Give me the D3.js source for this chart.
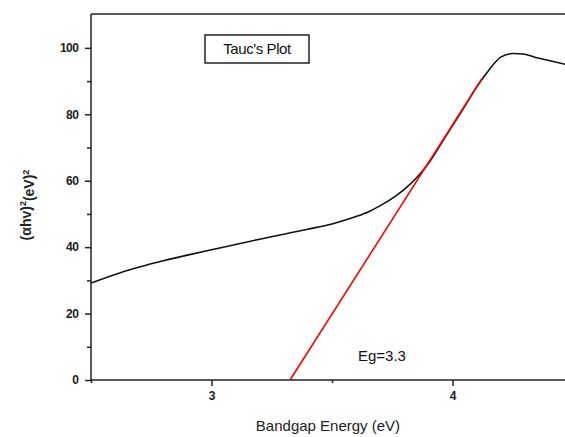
<!DOCTYPE html>
<html>
<head>
<meta charset="utf-8">
<script src="https://cdn.jsdelivr.net/npm/d3@7"></script>
<style>
	body { margin: 0; background: #fff; }
	svg { font-family: "Liberation Sans", Arial, sans-serif; }
</style>
</head>
<body>
<svg class="mainsvg" width="565" height="437"></svg>
<script>
// measured curve, (alpha h v)^2 vs photon energy
var energy = [2.5, 2.6, 2.7, 2.8, 2.9, 3.0, 3.1, 3.2, 3.3, 3.4, 3.5, 3.6, 3.65, 3.7, 3.75,
	3.8, 3.85, 3.9, 3.95, 4.0, 4.05, 4.1, 4.15, 4.2, 4.25, 4.3, 4.35, 4.4, 4.47];
var absorb = [29.2, 31.8, 34.0, 35.9, 37.6, 39.2, 40.8, 42.4, 43.9, 45.4, 47.0, 49.2, 50.6, 52.5, 54.7,
	57.4, 60.8, 65.2, 70.8, 76.6, 82.3, 88.2, 93.2, 97.2, 98.3, 98.1, 97.0, 96.2, 95.0];

// linear fit to the absorption edge
var fitX = [3.326, 4.12];
var fitY = [0, 90.5];

var xTicks = [3, 4];
var xMinor = [2.5, 3.5, 4.5];
var yTicks = [0, 20, 40, 60, 80, 100];
var yMinor = [10, 30, 50, 70, 90];

var margin = {left: 91, top: 14, bottom: 57};
var _width = 565, _height = 437;

var svg = d3.select('.mainsvg');

var x = d3.scaleLinear().domain([2.5, 4.5]).range([margin.left, margin.left + 482]);
var y = d3.scaleLinear().domain([0, 110.2]).range([_height - margin.bottom, margin.top]);

// frame top line
svg.append('line')
	.attr('x1', margin.left).attr('x2', _width)
	.attr('y1', margin.top).attr('y2', margin.top)
	.attr('stroke', '#222').attr('stroke-width', 1.5);

var xAxis = svg.append('g')
	.attr('transform', 'translate(0,' + y(0) + ')')
	.call(d3.axisBottom(x).tickValues(xTicks).tickSize(6).tickSizeOuter(0).tickFormat(d3.format('d')));
svg.append('g')
	.attr('transform', 'translate(0,' + y(0) + ')')
	.call(d3.axisBottom(x).tickValues(xMinor).tickSize(3).tickSizeOuter(0).tickFormat(''))
	.select('.domain').remove();

var yAxis = svg.append('g')
	.attr('transform', 'translate(' + margin.left + ',0)')
	.call(d3.axisLeft(y).tickValues(yTicks).tickSize(6).tickSizeOuter(0));
svg.append('g')
	.attr('transform', 'translate(' + margin.left + ',0)')
	.call(d3.axisLeft(y).tickValues(yMinor).tickSize(4).tickSizeOuter(0).tickFormat(''))
	.select('.domain').remove();

// y domain line up to the top frame
yAxis.select('.domain').attr('d', 'M0,' + y(0) + 'V' + margin.top);
xAxis.select('.domain').attr('d', 'M' + margin.left + ',0H' + _width);

svg.selectAll('.domain, .tick line')
	.attr('stroke', '#222')
	.attr('stroke-width', 1.5);

xAxis.selectAll('text')
	.attr('font-size', '12px')
	.attr('font-weight', '700')
	.attr('fill', '#222')
	.attr('dy', '0.9em');
yAxis.selectAll('text')
	.attr('font-size', '12px')
	.attr('font-weight', '700')
	.attr('fill', '#222')
	.attr('letter-spacing', '-0.5px')
	.attr('dx', '-0.3em');

// curve
var pts = energy.map(function (e, i) { return [e, absorb[i]]; });
var line = d3.line()
	.x(function (d) { return x(d[0]); })
	.y(function (d) { return y(d[1]); })
	.curve(d3.curveMonotoneX);

svg.append('path')
	.datum(pts)
	.attr('d', line)
	.attr('fill', 'none')
	.attr('stroke', '#111')
	.attr('stroke-width', 1.6);

svg.append('path')
	.datum(fitX.map(function (e, i) { return [e, fitY[i]]; }))
	.attr('d', d3.line().x(function (d) { return x(d[0]); }).y(function (d) { return y(d[1]); }))
	.attr('fill', 'none')
	.attr('stroke', '#ff0000')
	.attr('stroke-width', 1.6);

// legend box
svg.append('rect')
	.attr('x', 205).attr('y', 35)
	.attr('width', 104).attr('height', 28)
	.attr('fill', 'white')
	.attr('stroke', '#222')
	.attr('stroke-width', 1.5);
svg.append('text')
	.attr('x', 257).attr('y', 54)
	.attr('font-size', '15px')
	.attr('letter-spacing', '-0.4px')
	.attr('fill', '#111')
	.style('text-anchor', 'middle')
	.text("Tauc's Plot");

svg.append('text')
	.attr('x', 358).attr('y', 361)
	.attr('font-size', '15px')
	.attr('fill', '#111')
	.style('text-anchor', 'start')
	.text('Eg=3.3');

// axis titles
svg.append('text')
	.attr('x', 328).attr('y', 431)
	.attr('font-size', '15px')
	.attr('fill', '#222')
	.style('text-anchor', 'middle')
	.text('Bandgap Energy (eV)');

var yt = svg.append('text')
	.attr('transform', 'translate(31,205) rotate(-90)')
	.attr('font-size', '14px')
	.attr('font-weight', '700')
	.attr('fill', '#222')
	.style('text-anchor', 'middle');
yt.append('tspan').text('(\u03b1hv)');
yt.append('tspan').attr('font-size', '9px').attr('dy', '-0.6em').text('2');
yt.append('tspan').attr('dy', '0.6em').text('(eV)');
yt.append('tspan').attr('font-size', '9px').attr('dy', '-0.6em').text('2');
</script>
</body>
</html>
